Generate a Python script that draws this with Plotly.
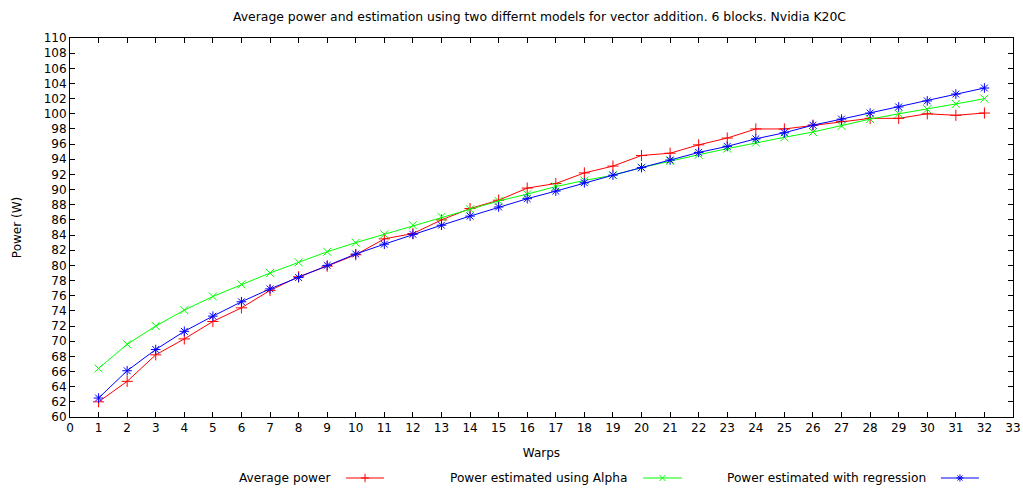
import plotly.graph_objects as go

# Measured data: number of warps vs. power (W)
warps = list(range(1, 33))

avg_power = [62.0, 64.7, 68.2, 70.3, 72.6, 74.4, 76.7, 78.5, 79.9, 81.4,
             83.5, 84.2, 86.0, 87.5, 88.6, 90.2, 90.8, 92.2, 93.1, 94.5,
             94.8, 95.9, 96.8, 98.0, 98.0, 98.5, 99.0, 99.4, 99.4, 100.0,
             99.8, 100.1]

alpha_est = [66.4, 69.6, 72.0, 74.1, 75.9, 77.5, 79.0, 80.4, 81.8, 83.0,
             84.1, 85.3, 86.4, 87.4, 88.5, 89.4, 90.4, 91.2, 91.9, 92.9,
             93.8, 94.6, 95.4, 96.2, 96.9, 97.6, 98.4, 99.3, 100.0, 100.6,
             101.3, 102.0]

regr_est = [62.5, 66.1, 68.9, 71.3, 73.3, 75.2, 76.9, 78.4, 80.0, 81.5,
            82.8, 84.1, 85.3, 86.5, 87.7, 88.8, 89.8, 90.9, 91.9, 92.9,
            93.9, 94.9, 95.7, 96.7, 97.5, 98.5, 99.3, 100.1, 100.9, 101.7,
            102.6, 103.4]

series = [
    ("Average power", avg_power, "#ff0000", "cross-thin-open"),
    ("Power estimated using Alpha", alpha_est, "#00ff00", "x-thin-open"),
    ("Power estimated with regression", regr_est, "#0000ff", "asterisk-open"),
]

# Legend key layout (fractions of the legend strip width): text end, key start, key end
legend_slots = [(0.2800, 0.2927, 0.3330),
                (0.5928, 0.6076, 0.6490),
                (0.9098, 0.9236, 0.9639)]

FONT = "DejaVu Sans"
fig = go.Figure()

for name, vals, color, sym in series:
    fig.add_trace(go.Scatter(
        x=warps, y=vals, mode="lines+markers", name=name,
        line=dict(color=color, width=1),
        marker=dict(symbol=sym, size=8, color=color, line=dict(color=color, width=1)),
        xaxis="x", yaxis="y", showlegend=False,
    ))

# Gnuplot-style key: label on the left, line sample with a marker on the right
annotations = []
for (name, vals, color, sym), (t_end, k0, k1) in zip(series, legend_slots):
    fig.add_trace(go.Scatter(
        x=[k0, k1], y=[0.5, 0.5], mode="lines", line=dict(color=color, width=1),
        xaxis="x2", yaxis="y2", showlegend=False, hoverinfo="skip",
    ))
    fig.add_trace(go.Scatter(
        x=[(k0 + k1) / 2], y=[0.5], mode="markers",
        marker=dict(symbol=sym, size=6, color=color, line=dict(color=color, width=1)),
        xaxis="x2", yaxis="y2", showlegend=False, hoverinfo="skip", cliponaxis=False,
    ))
    annotations.append(dict(
        text=name, x=t_end, y=0.5, xref="x2", yref="y2",
        xanchor="right", yanchor="middle", showarrow=False,
        font=dict(family=FONT, size=12.2, color="black"),
    ))

fig.update_layout(
    width=1023, height=491,
    margin=dict(l=70, r=10, t=38, b=0),
    paper_bgcolor="white", plot_bgcolor="white",
    font=dict(family=FONT, size=12, color="black"),
    title=dict(
        text="Average power and estimation using two differnt models for vector addition. 6 blocks. Nvidia K20C",
        x=0.5274, xanchor="center", y=0.966, yanchor="middle",
        font=dict(family=FONT, size=12.4, color="black"),
    ),
    xaxis=dict(
        domain=[0, 1], range=[0, 33], tickmode="linear", tick0=0, dtick=1,
        ticks="inside", ticklen=5, tickcolor="black", mirror="ticks",
        showline=True, linecolor="black", linewidth=1, showgrid=False, zeroline=False,
        anchor="y", automargin=False,
        title=dict(text="Warps", standoff=14, font=dict(size=12)),
        tickfont=dict(size=12),
    ),
    yaxis=dict(
        domain=[0.1634, 1], range=[60, 110], tickmode="linear", tick0=60, dtick=2,
        ticks="inside", ticklen=5, tickcolor="black", mirror="ticks",
        showline=True, linecolor="black", linewidth=1, showgrid=False, zeroline=False,
        anchor="x", automargin=False,
        title=dict(text="Power (W)", standoff=19, font=dict(size=12)),
        tickfont=dict(size=12),
    ),
    xaxis2=dict(domain=[0, 1], range=[0, 1], visible=False, anchor="y2", automargin=False),
    yaxis2=dict(domain=[0, 0.0574], range=[0, 1], visible=False, anchor="x2", automargin=False),
    annotations=annotations,
)

fig.write_html("out.html")
